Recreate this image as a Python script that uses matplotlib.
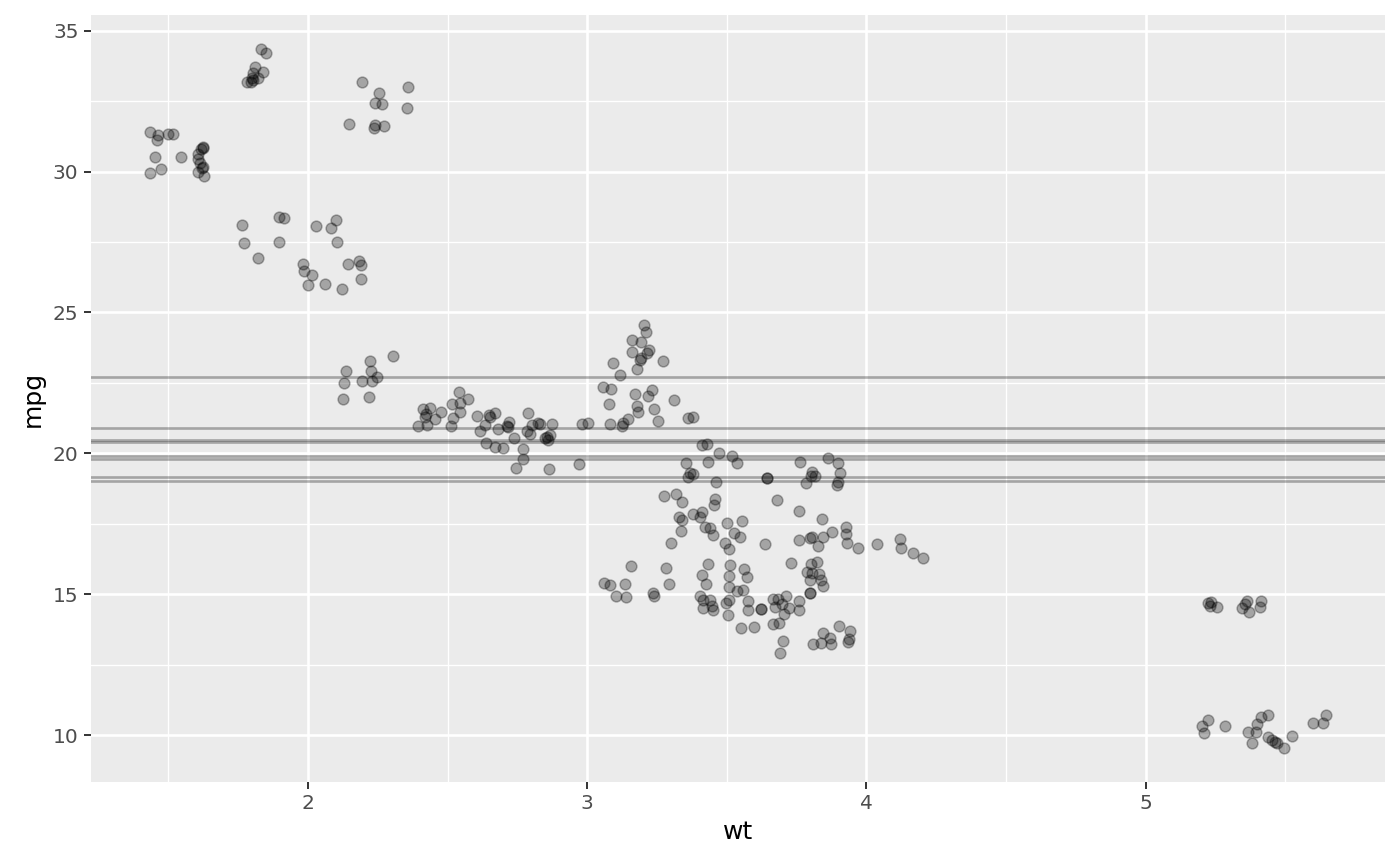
import matplotlib
matplotlib.use("Agg")
import matplotlib.pyplot as plt
from matplotlib.ticker import MultipleLocator

# jittered copies of the mtcars (wt, mpg) points
wt = [
    # Lotus Europa
    1.434, 1.463, 1.459, 1.499, 1.517, 1.452, 1.545, 1.474, 1.434,
    # Honda Civic
    1.624, 1.617, 1.624, 1.606, 1.606, 1.613, 1.624, 1.606, 1.628, 1.621,
    # Toyota Corolla
    1.832, 1.850, 1.810, 1.839, 1.803, 1.799, 1.821, 1.782, 1.796, 1.803,
    # Fiat 128
    2.193, 2.254, 2.358, 2.240, 2.265, 2.354, 2.147, 2.240, 2.236, 2.272,
    # Fiat X1-9 / Porsche 914-2
    1.764, 1.771, 1.821, 1.896, 1.914, 2.029, 2.100, 2.082, 1.896, 2.104,
    1.982, 1.986, 2.014, 2.000, 2.061, 2.122, 2.143, 2.183, 2.190, 2.190,
    # Datsun 710
    2.136, 2.222, 2.304, 2.129, 2.193, 2.226, 2.229, 2.247, 2.125, 2.218,
    # Toyota Corona and neighbours
    2.412, 2.437, 2.422, 2.419, 2.455, 2.476, 2.394, 2.426, 2.515, 2.541,
    2.544, 2.573, 2.544, 2.519, 2.512,
    # Mazda RX4 / Ferrari Dino / Volvo
    2.605, 2.616, 2.634, 2.652, 2.669, 2.648, 2.637, 2.669, 2.698, 2.680,
    2.712, 2.720, 2.716, 2.738, 2.770, 2.770, 2.745, 2.788, 2.784, 2.795,
    2.802, 2.823, 2.830, 2.873, 2.856, 2.866, 2.848, 2.859, 2.863,
    # Merc 240D / 230 / Hornet 4 Drive / Merc 280
    3.203, 3.210, 3.160, 3.192, 3.160, 3.221, 3.214, 3.192, 3.189, 3.271,
    3.092, 3.178, 3.117, 3.056, 3.085, 3.171, 3.232, 3.217, 3.310, 3.078,
    3.178, 3.181, 3.239, 3.253, 3.146, 3.128, 3.124, 3.081, 2.981, 3.002,
    3.360, 3.378, 3.410, 3.428, 3.471, 2.970, 3.353, 3.432, 3.368, 3.378,
    3.360,
    # Ford Pantera / Valiant / Merc 280C
    3.275, 3.318, 3.339, 3.328, 3.339, 3.335, 3.300, 3.156, 3.282, 3.060,
    3.081, 3.135, 3.103, 3.139, 3.235, 3.239, 3.292,
    # Hornet Sportabout / Pontiac Firebird / Merc 450SL
    3.518, 3.536, 3.643, 3.643, 3.761, 3.862, 3.897, 3.804, 3.801, 3.815,
    3.783, 3.905, 3.897, 3.894, 3.461, 3.457, 3.454, 3.679, 3.758, 3.840,
    3.378, 3.410, 3.403, 3.500, 3.554, 3.421, 3.439, 3.450, 3.525, 3.547,
    3.876, 3.926, 3.926, 3.797, 3.804, 3.844, 3.758,
    # Duster / Maserati / Dodge / AMC / Camaro / Merc 450SLC
    3.493, 3.507, 3.636, 3.432, 3.410, 3.425, 3.511, 3.507, 3.507, 3.561,
    3.572, 3.536, 3.557, 3.403, 3.414, 3.439, 3.414, 3.450, 3.446, 3.496,
    3.507, 3.504, 3.575, 3.575, 3.622, 3.622, 3.550, 3.597, 3.665, 3.683,
    3.711, 3.672, 3.697, 3.722, 3.704, 3.665, 3.686, 3.758, 3.758, 3.729,
    3.801, 3.822, 3.787, 3.804, 3.829, 3.797, 3.837, 3.844, 3.797, 3.797,
    3.701, 3.690, 3.808, 3.837, 3.844, 3.869, 3.872, 3.901, 3.940, 3.937,
    3.933, 3.930, 3.969, 3.826,
    # Merc 450SE
    4.037, 4.119, 4.123, 4.166, 4.202,
    # Chrysler Imperial
    5.222, 5.229, 5.254, 5.362, 5.355, 5.347, 5.369, 5.412, 5.408, 5.236,
    # Cadillac Fleetwood / Lincoln Continental
    5.222, 5.201, 5.208, 5.283, 5.412, 5.440, 5.398, 5.365, 5.394, 5.380,
    5.437, 5.451, 5.465, 5.472, 5.494, 5.526, 5.598, 5.634, 5.645,
]

mpg = [
    31.40, 31.30, 31.12, 31.33, 31.33, 30.52, 30.52, 30.09, 29.95,
    30.87, 30.80, 30.84, 30.62, 30.45, 30.30, 30.16, 29.98, 29.84, 30.13,
    34.35, 34.21, 33.71, 33.53, 33.50, 33.32, 33.32, 33.18, 33.18, 33.25,
    33.18, 32.79, 33.00, 32.43, 32.40, 32.26, 31.69, 31.65, 31.55, 31.62,
    28.10, 27.46, 26.93, 28.39, 28.35, 28.07, 28.28, 28.00, 27.50, 27.50,
    26.72, 26.47, 26.33, 25.97, 26.01, 25.83, 26.72, 26.82, 26.68, 26.19,
    22.92, 23.27, 23.45, 22.49, 22.56, 22.92, 22.56, 22.71, 21.93, 22.00,
    21.57, 21.61, 21.39, 21.29, 21.22, 21.46, 20.97, 21.00, 21.75, 22.17,
    21.78, 21.93, 21.46, 21.25, 20.97,
    21.32, 20.79, 21.00, 21.29, 21.43, 21.36, 20.36, 20.22, 20.19, 20.86,
    20.97, 21.11, 20.93, 20.54, 20.15, 19.80, 19.48, 21.43, 20.79, 20.68,
    21.00, 21.07, 21.04, 21.04, 20.58, 20.65, 20.54, 20.47, 19.44,
    24.55, 24.30, 24.02, 23.95, 23.59, 23.67, 23.56, 23.38, 23.31, 23.27,
    23.20, 22.99, 22.78, 22.35, 22.28, 22.10, 22.25, 22.03, 21.89, 21.75,
    21.68, 21.46, 21.57, 21.14, 21.22, 21.07, 20.97, 21.04, 21.04, 21.07,
    21.25, 21.29, 20.29, 20.33, 20.01, 19.62, 19.65, 19.69, 19.30, 19.26,
    19.16,
    18.48, 18.55, 18.27, 17.74, 17.63, 17.24, 16.81, 16.00, 15.93, 15.39,
    15.32, 15.36, 14.93, 14.90, 15.04, 14.93, 15.36,
    19.90, 19.65, 19.12, 19.12, 19.69, 19.83, 19.65, 19.33, 19.19, 19.19,
    18.94, 19.30, 18.98, 18.87, 18.98, 18.38, 18.16, 18.34, 17.95, 17.67,
    17.84, 17.91, 17.74, 17.52, 17.59, 17.38, 17.35, 17.10, 17.17, 17.03,
    17.20, 17.38, 17.13, 16.99, 17.03, 17.03, 16.92,
    16.81, 16.60, 16.78, 16.07, 15.68, 15.36, 16.03, 15.64, 15.25, 15.89,
    15.61, 15.11, 15.15, 14.93, 14.79, 14.79, 14.51, 14.44, 14.58, 14.68,
    14.79, 14.26, 14.75, 14.44, 14.47, 14.47, 13.80, 13.83, 14.83, 14.83,
    14.93, 14.54, 14.65, 14.51, 14.29, 13.94, 13.97, 14.75, 14.44, 16.10,
    16.07, 16.14, 15.78, 15.75, 15.71, 15.50, 15.50, 15.29, 15.04, 15.04,
    13.33, 12.91, 13.23, 13.26, 13.62, 13.44, 13.23, 13.87, 13.69, 13.41,
    13.30, 16.81, 16.64, 16.71,
    16.78, 16.96, 16.64, 16.46, 16.28,
    14.68, 14.58, 14.54, 14.75, 14.65, 14.51, 14.36, 14.75, 14.54, 14.72,
    10.53, 10.32, 10.07, 10.32, 10.64, 10.71, 10.39, 10.10, 10.10, 9.71,
    9.93, 9.82, 9.75, 9.71, 9.54, 9.96, 10.42, 10.42, 10.71,
]

# horizontal reference lines (resampled mean mpg)
hlines = [22.70, 20.90, 20.46, 20.40, 19.89, 19.81, 19.16, 19.00]

x_ticks = [2, 3, 4, 5]
y_ticks = [10, 15, 20, 25, 30, 35]

fig = plt.figure(figsize=(14, 8.66), dpi=100)
ax = fig.add_axes([0.065, 0.097, 0.924, 0.8857])
ax.set_facecolor("#EBEBEB")

ax.set_xlim(1.223, 5.856)
ax.set_ylim(8.332, 35.557)

ax.set_xticks(x_ticks)
ax.set_yticks(y_ticks)
ax.xaxis.set_minor_locator(MultipleLocator(0.5))
ax.yaxis.set_minor_locator(MultipleLocator(2.5))
ax.grid(which="major", color="white", linewidth=1.9, zorder=0)
ax.grid(which="minor", color="white", linewidth=0.95, zorder=0)
ax.set_axisbelow(True)

for s in ax.spines.values():
    s.set_visible(False)

ax.tick_params(axis="both", which="major", length=5, width=1.4, color="#333333",
               labelsize=14.5, labelcolor="#4D4D4D", pad=4)
ax.tick_params(axis="both", which="minor", length=0)

ax.scatter(wt, mpg, s=60, c="black", alpha=0.3, edgecolors="black",
           linewidths=1.1, zorder=3)

for h in hlines:
    ax.axhline(h, color="black", alpha=0.3, linewidth=1.9, zorder=2)

ax.set_xlabel("wt", fontsize=18, color="black", labelpad=5)
ax.set_ylabel("mpg", fontsize=18, color="black", labelpad=6)

fig.savefig("out.png", dpi=100, facecolor="white")
